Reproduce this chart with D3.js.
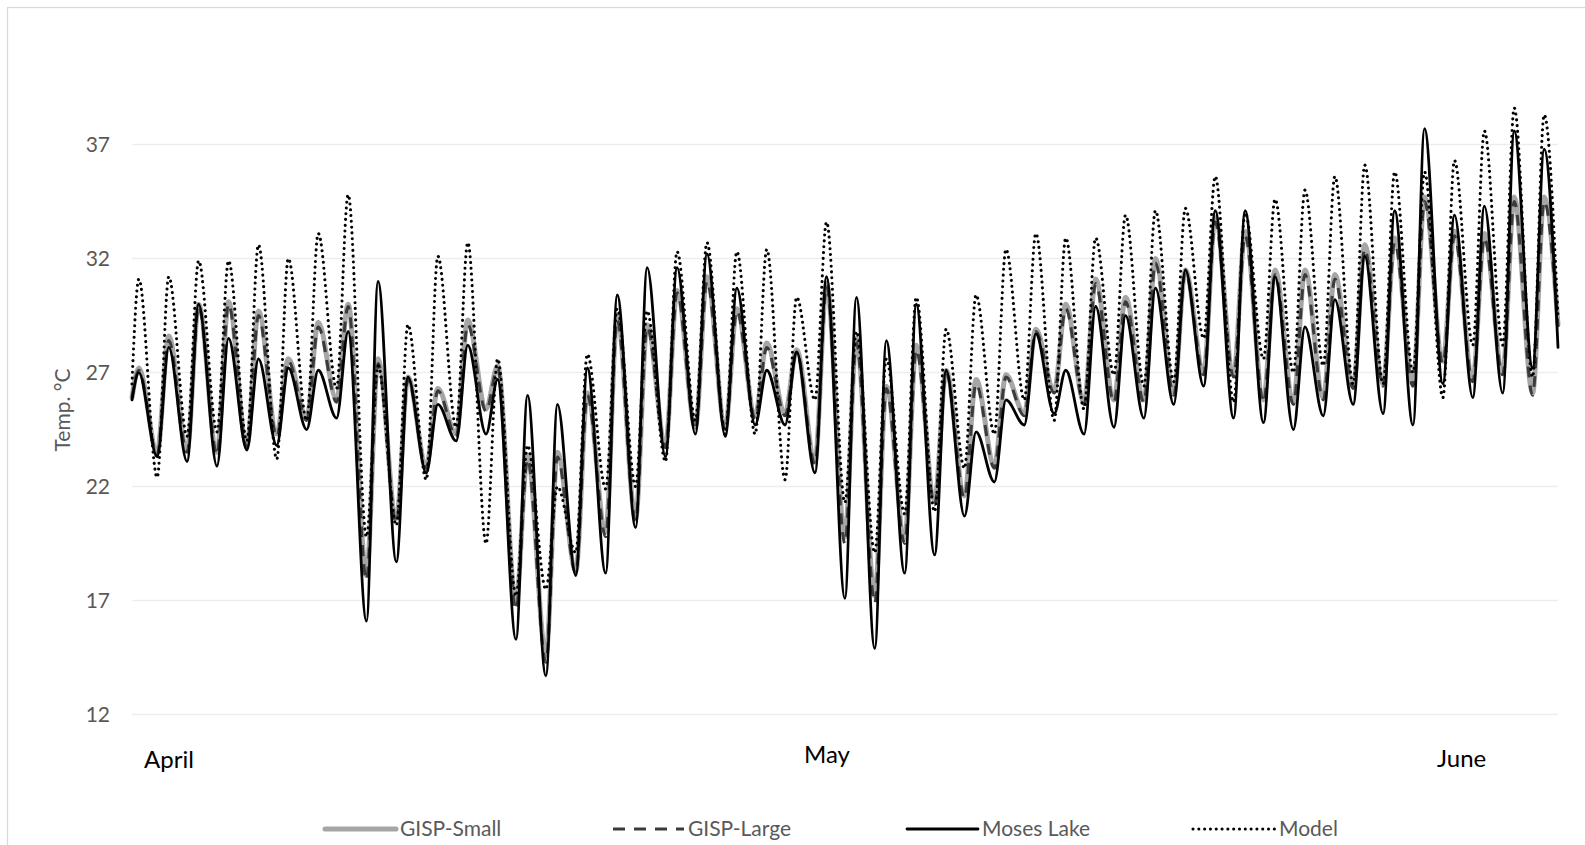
<!DOCTYPE html>
<html>
<head>
<meta charset="utf-8">
<script src="https://cdn.jsdelivr.net/npm/d3@7"></script>
<style>
  body { margin: 0; background: #fff; }
  text { font-family: Lato, "Open Sans", sans-serif; }
</style>
</head>
<body>
<div id="chart"></div>
<script>
// daily peaks and troughs (deg C), one value per day
const seriesNames = ["GISP-Small", "GISP-Large", "Moses Lake", "Model"];

const smallMax = [27.2, 28.6, 30.0, 30.1, 29.7, 27.6, 29.2, 30.0, 27.6, 26.8, 26.3, 29.3, 27.3, 23.4, 23.5, 26.1,
  29.5, 29.1, 30.6, 31.2, 29.8, 28.3, 28.0, 30.9, 28.5, 26.4, 28.2, 27.1, 26.7, 26.9, 28.9, 30.0,
  31.1, 30.3, 32.0, 31.5, 33.8, 33.2, 31.5, 31.5, 31.3, 32.6, 32.9, 34.7, 33.2, 33.1, 34.7, 34.7];
const smallMin = [23.5, 23.6, 23.5, 23.8, 24.3, 25.0, 25.8, 18.1, 20.6, 22.9, 24.3, 25.4, 16.9, 14.6, 18.3, 20.0,
  20.6, 23.8, 24.6, 24.6, 25.1, 25.2, 23.1, 19.8, 17.2, 19.7, 21.4, 21.6, 22.9, 25.2, 26.2, 25.7,
  25.8, 25.8, 26.1, 27.0, 26.9, 25.8, 25.7, 25.9, 26.4, 26.5, 26.5, 27.5, 26.7, 27.0, 26.1];

const largeMax = [27.1, 28.4, 29.9, 30.0, 29.5, 27.5, 29.0, 29.9, 27.4, 26.7, 26.2, 29.1, 27.2, 23.2, 23.3, 26.0,
  29.3, 29.0, 30.5, 31.0, 29.7, 28.1, 27.9, 30.8, 28.3, 26.3, 28.0, 27.0, 26.5, 26.8, 28.8, 29.8,
  30.9, 30.1, 31.8, 31.4, 33.6, 33.0, 31.3, 31.3, 31.1, 32.4, 32.7, 34.5, 33.0, 32.9, 34.5, 34.5];
const largeMin = [23.4, 23.5, 23.4, 23.7, 24.2, 24.9, 25.7, 17.9, 20.4, 22.8, 24.2, 25.3, 16.6, 14.3, 18.2, 19.8,
  20.5, 23.7, 24.5, 24.5, 25.0, 25.1, 23.0, 19.5, 16.9, 19.5, 21.2, 21.5, 22.8, 25.1, 26.1, 25.6,
  25.7, 25.7, 26.0, 26.9, 26.8, 25.7, 25.6, 25.8, 26.3, 26.4, 26.4, 27.4, 26.6, 26.9, 26.0];

const mosesMax = [27.0, 28.1, 30.0, 28.5, 27.6, 27.2, 27.1, 28.8, 31.0, 26.8, 25.6, 28.2, 26.7, 26.0, 25.6, 27.2,
  30.4, 31.6, 31.6, 32.2, 30.7, 27.1, 27.9, 31.2, 30.3, 28.4, 30.0, 27.1, 24.4, 25.8, 28.7, 27.1,
  29.9, 29.5, 30.7, 31.5, 34.1, 34.1, 31.2, 29.0, 30.2, 32.1, 34.1, 37.7, 33.9, 34.3, 37.6, 36.8];
const mosesMin = [23.3, 23.1, 22.9, 23.6, 23.8, 24.5, 25.0, 16.1, 18.7, 22.6, 24.0, 24.3, 15.3, 13.7, 18.1, 18.2,
  20.2, 23.3, 24.3, 24.2, 24.7, 24.7, 22.6, 17.1, 14.9, 18.2, 19.0, 20.7, 22.2, 24.7, 25.2, 24.3,
  24.6, 25.0, 25.6, 26.4, 25.0, 24.8, 24.5, 25.1, 25.6, 25.2, 24.7, 26.5, 25.9, 26.1, 27.2];

const modelMax = [31.1, 31.2, 31.9, 31.9, 32.6, 32.0, 33.1, 34.8, 27.3, 29.1, 32.1, 32.7, 27.6, 23.8, 22.0, 27.8,
  29.8, 29.7, 32.3, 32.7, 32.3, 32.4, 30.3, 33.6, 28.8, 27.6, 30.3, 28.9, 30.4, 32.4, 33.1, 32.9,
  32.9, 33.9, 34.1, 34.2, 35.6, 34.0, 34.6, 35.0, 35.6, 36.1, 35.8, 35.8, 36.3, 37.6, 38.6, 38.3];
const modelMin = [22.4, 24.2, 24.4, 24.0, 23.2, 24.9, 26.3, 19.8, 20.3, 22.3, 24.6, 19.5, 17.2, 17.5, 19.1, 21.9,
  22.0, 23.1, 24.9, 24.3, 24.3, 22.3, 25.8, 21.3, 19.1, 20.8, 20.9, 22.8, 24.3, 25.8, 24.9, 25.4,
  26.9, 26.4, 26.6, 28.5, 25.7, 27.6, 27.0, 27.3, 26.5, 26.5, 27.0, 25.9, 28.2, 28.2, 26.8];

// first and last readings of each series
const firstTemp = [25.9, 25.9, 25.8, 26.5];
const lastTemp = [29.1, 29.0, 28.1, 29.4];

const yTicks = [12, 17, 22, 27, 32, 37];
const monthLabels = ["April", "May", "June"];

// hours from the start of the record
const peakHour = 5.5, troughHour = 20.2, endHour = 1144.6;

const W = 1585, H = 845;
const svg = d3.select("#chart").append("svg")
  .attr("width", W).attr("height", H);

// chart frame
svg.append("rect")
  .attr("x", 7.5).attr("y", 7.5)
  .attr("width", W + 20).attr("height", H + 20)
  .attr("fill", "none").attr("stroke", "#d9d9d9").attr("stroke-width", 1.25);

const x = d3.scaleLinear().domain([0, endHour]).range([132, 1558]);
const y = d3.scaleLinear().domain([12, 37]).range([714.6, 144.5]);

// gridlines
svg.append("g")
  .selectAll("line")
  .data(yTicks)
  .enter()
  .append("line")
  .attr("x1", x(0)).attr("x2", x(endHour))
  .attr("y1", d => y(d)).attr("y2", d => y(d))
  .attr("stroke", "#ededed").attr("stroke-width", 1.5);

// y axis labels
const yAxis = svg.append("g")
  .attr("transform", "translate(110,0)")
  .call(d3.axisLeft(y).tickValues(yTicks).tickSize(0).tickPadding(0).tickFormat(d3.format("d")));
yAxis.select(".domain").remove();
yAxis.selectAll("text")
  .attr("fill", "#595959")
  .style("font-size", "21px")
  .style("font-family", "Lato, 'Open Sans', sans-serif");

svg.append("text")
  .attr("transform", "translate(70,410) rotate(-90)")
  .attr("text-anchor", "middle")
  .attr("fill", "#595959")
  .style("font-size", "21px")
  .text("Temp. °C");

// month labels
const monthX = [144, 804, 1437];
const monthY = [768, 763, 767];
svg.selectAll(".month")
  .data(monthLabels)
  .enter()
  .append("text")
  .attr("class", "month")
  .attr("x", (d, i) => monthX[i])
  .attr("y", (d, i) => monthY[i])
  .attr("fill", "#000")
  .style("font-size", "24px")
  .text(d => d);

function buildPoints(maxs, mins, first, last) {
  const pts = [{ t: 0, v: first }];
  for (let i = 0; i < maxs.length; i++) {
    pts.push({ t: i * 24 + peakHour, v: maxs[i] });
    if (i < mins.length) pts.push({ t: i * 24 + troughHour, v: mins[i] });
  }
  pts.push({ t: endHour, v: last });
  return pts;
}

const styles = [
  { color: "#a6a6a6", width: 5, dash: null, cap: "round" },
  { color: "#3b3b3b", width: 3, dash: "11 8", cap: "butt" },
  { color: "#000000", width: 2.8, dash: null, cap: "round" },
  { color: "#000000", width: 3.1, dash: "0.01 5.8", cap: "round" }
];

const seriesData = [
  buildPoints(smallMax, smallMin, firstTemp[0], lastTemp[0]),
  buildPoints(largeMax, largeMin, firstTemp[1], lastTemp[1]),
  buildPoints(mosesMax, mosesMin, firstTemp[2], lastTemp[2]),
  buildPoints(modelMax, modelMin, firstTemp[3], lastTemp[3])
];

const line = d3.line()
  .x(d => x(d.t))
  .y(d => y(d.v))
  .curve(d3.curveMonotoneX);

seriesData.forEach((pts, i) => {
  const s = styles[i];
  svg.append("path")
    .datum(pts)
    .attr("d", line)
    .attr("fill", "none")
    .attr("stroke", s.color)
    .attr("stroke-width", s.width)
    .attr("stroke-dasharray", s.dash)
    .attr("stroke-linecap", s.cap)
    .attr("stroke-linejoin", "round");
});

// legend
const legendX = [325, 613, 907, 1193];
const legendY = 829;
const leg = svg.selectAll(".leg")
  .data(seriesNames)
  .enter()
  .append("g")
  .attr("class", "leg")
  .attr("transform", (d, i) => `translate(${legendX[i]},${legendY})`);

leg.append("line")
  .attr("x1", 0).attr("x2", (d, i) => i === 3 ? 82 : 71)
  .attr("y1", 0).attr("y2", 0)
  .attr("stroke", (d, i) => styles[i].color)
  .attr("stroke-width", (d, i) => styles[i].width)
  .attr("stroke-dasharray", (d, i) => i === 1 ? "12 9" : styles[i].dash)
  .attr("stroke-linecap", (d, i) => styles[i].cap);

leg.append("text")
  .attr("x", (d, i) => i === 3 ? 86 : 75)
  .attr("y", 7)
  .attr("fill", "#595959")
  .style("font-size", "21px")
  .text(d => d);
</script>
</body>
</html>
